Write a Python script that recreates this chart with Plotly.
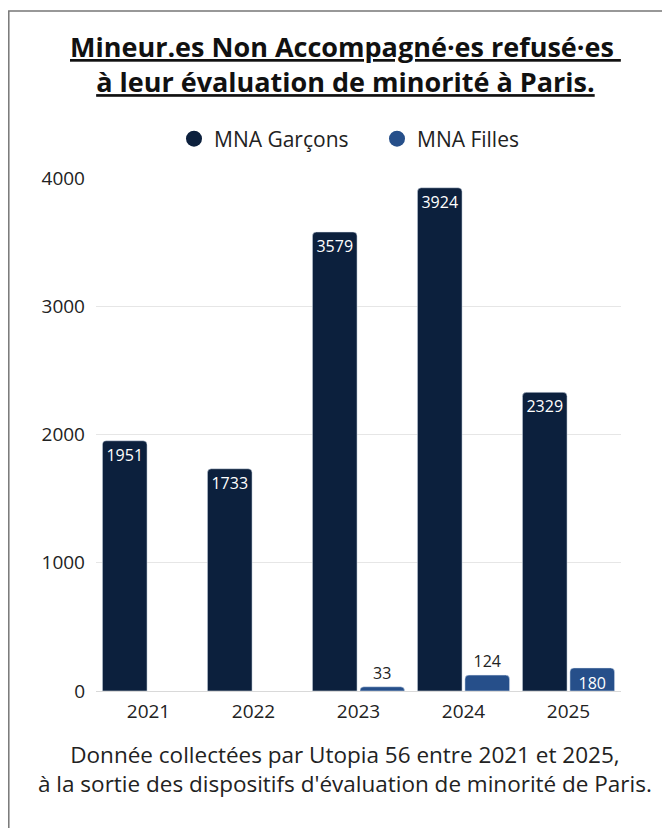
import plotly.graph_objects as go

years = ["2021", "2022", "2023", "2024", "2025"]
garcons = [1951, 1733, 3579, 3924, 2329]
filles = [None, None, 33, 124, 180]
filles_textpos = ["none", "none", "outside", "outside", "inside"]

NAVY = "#0c203d"
BLUE = "#264f8a"
FONT = "Open Sans"

# figure-pixel geometry of the plot area
L, R, T, B = 88, 613, 170, 683
PW, PH = R - L, B - T


def px(x):
    return (x - L) / PW


def py(y):
    return (B - y) / PH


fig = go.Figure()
fig.add_trace(go.Bar(
    x=years, y=garcons, name="MNA Garçons", marker=dict(color=NAVY, cornerradius=4),
    text=[str(v) for v in garcons], textposition="inside", insidetextanchor="end",
    insidetextfont=dict(color="white", size=16, family=FONT), showlegend=False,
    textangle=0,
))
fig.add_trace(go.Bar(
    x=years, y=filles, name="MNA Filles", marker=dict(color=BLUE, cornerradius=4),
    text=[str(v) if v is not None else "" for v in filles], textposition=filles_textpos,
    insidetextanchor="end",
    insidetextfont=dict(color="white", size=16, family=FONT),
    outsidetextfont=dict(color="#222222", size=16, family=FONT), showlegend=False,
    textangle=0, cliponaxis=False,
))
for name, col in [("MNA Garçons", NAVY), ("MNA Filles", BLUE)]:
    fig.add_trace(go.Scatter(x=[None], y=[None], mode="markers", name=name,
                             marker=dict(color=col, size=21, symbol="circle")))

fig.update_layout(
    width=662, height=820,
    margin=dict(l=L, r=662 - R, t=T, b=820 - B),
    paper_bgcolor="white", plot_bgcolor="white",
    font=dict(family=FONT, color="#222222", size=18),
    barmode="group", bargap=0.095, bargroupgap=0.06,
    uniformtext=dict(minsize=16, mode="show"),
    legend=dict(orientation="h", x=px(166), xanchor="left", y=py(131), yanchor="middle",
                font=dict(size=21, family=FONT, color="#222222"), itemwidth=30,
                entrywidth=158, entrywidthmode="pixels",
                traceorder="normal"),
    xaxis=dict(showgrid=False, showline=True, linecolor="#d9d9d9", linewidth=1,
               tickfont=dict(size=19), ticklabelstandoff=3),
    yaxis=dict(range=[0, 4000], tickvals=[0, 1000, 2000, 3000, 4000],
               showgrid=True, gridcolor="#e6e6e6", zeroline=False,
               tickfont=dict(size=19), ticklabelstandoff=10),
)

fig.add_annotation(
    text="<b><u>Mineur.es Non Accompagné·es refusé·es </u></b><br><b><u>à leur évaluation de minorité à Paris.</u></b>",
    xref="paper", yref="paper", x=px(337), y=py(56),
    xanchor="center", yanchor="middle", showarrow=False,
    font=dict(size=27, family=FONT, color="#111111"), align="center",
)
fig.add_annotation(
    text="Donnée collectées par Utopia 56 entre 2021 et 2025,<br>à la sortie des dispositifs d'évaluation de minorité de Paris.",
    xref="paper", yref="paper", x=px(337), y=py(761),
    xanchor="center", yanchor="middle", showarrow=False,
    font=dict(size=22.5, family=FONT, color="#222222"), align="center",
)
fig.add_shape(type="rect", xref="paper", yref="paper",
              x0=px(0.8), x1=px(680), y0=py(840), y1=py(3),
              line=dict(color="#777777", width=1.5), layer="above")

fig.write_html("out.html")
